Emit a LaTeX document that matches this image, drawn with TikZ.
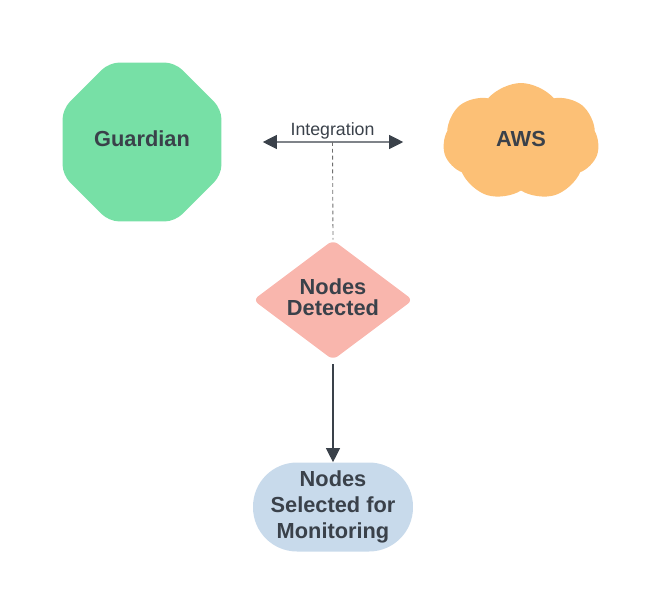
\documentclass[tikz,border=0pt]{standalone}
\usepackage{fontspec}
\setmainfont{Liberation Sans}
\usetikzlibrary{arrows.meta,shapes.geometric,shapes.symbols}
\definecolor{ink}{RGB}{58,65,74}
\definecolor{gfill}{RGB}{119,224,166}
\definecolor{ofill}{RGB}{252,192,118}
\definecolor{pfill}{RGB}{249,182,173}
\definecolor{bfill}{RGB}{200,218,235}
\definecolor{dgray}{RGB}{110,110,110}
\tikzset{
  bold/.style={font=\fontsize{12.4}{12}\selectfont\bfseries, text=ink, align=center,
               text depth=0.12cm},
  octa/.style={bold, regular polygon, regular polygon sides=8, fill=gfill,
               minimum size=3.44cm, rounded corners=0.2cm},
  cld/.style={bold, cloud, cloud puffs=7, cloud puff arc=100, cloud ignores aspect,
              fill=ofill, minimum width=3.12cm, minimum height=2.36cm},
  dec/.style={bold, diamond, aspect=1.34, inner sep=0pt, fill=pfill,
              minimum width=3.2cm, minimum height=2.4cm, rounded corners=0.12cm},
  pill/.style={font=\fontsize{12.4}{14.7}\selectfont\bfseries, text=ink, align=center,
               rectangle, fill=bfill, minimum width=3.2cm, minimum height=1.78cm,
               rounded corners=0.88cm, inner sep=0pt},
  dbl/.style={{Triangle[length=2.8mm,width=2.8mm]}-{Triangle[length=2.8mm,width=2.8mm]},
              ink, line width=0.6pt},
  one/.style={-{Triangle[length=2.8mm,width=2.8mm]}, ink, line width=0.6pt},
  dsh/.style={dgray, line width=0.5pt, dash pattern=on 2.2pt off 1.7pt},
  lab/.style={font=\fontsize{10.1}{12}\selectfont, text=ink},
}

\begin{document}
\begin{tikzpicture}[x=0.02cm, y=-0.02cm]
    \useasboundingbox (0,0) rectangle (661,613);
    \node[octa] (guard) at (142,142) {Guardian};
    \node[cld] (aws) at (521,142) {AWS};
    \node[dec] (det) at (333,300) {Nodes\\Detected};
    \node[pill] (sel) at (333,507) {Nodes\\Selected for\\Monitoring};
    \draw[dbl, shorten <=0.82cm, shorten >=0.8cm] (guard) --
      node[lab, above=-0.07cm] (intl) {Integration}
      node[coordinate, pos=0.5] (mid) {} (aws);
    \draw[dsh] (mid) -- (det.north);
    \draw[one, shorten <=0.08cm] (det.south) -- (sel.north);
\end{tikzpicture}
\end{document}
